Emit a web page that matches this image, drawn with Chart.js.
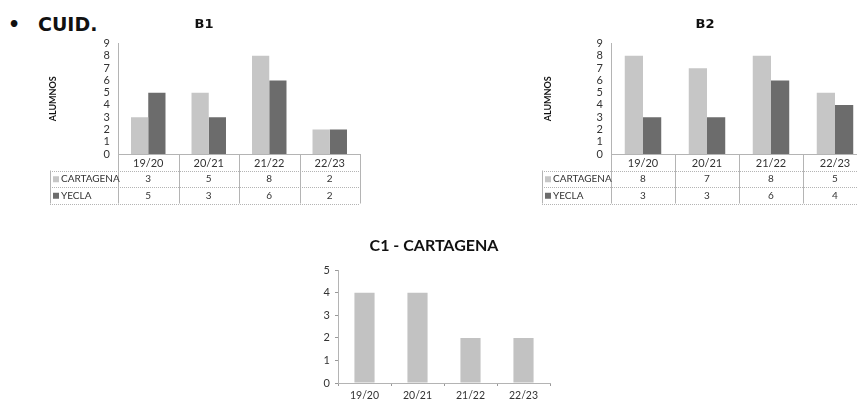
<!DOCTYPE html>
<html>
<head>
<meta charset="utf-8">
<script src="https://cdn.jsdelivr.net/npm/chart.js@4"></script>
<style>
  html, body { margin: 0; padding: 0; background: #fff; overflow: hidden; width: 857px; height: 400px; }
  .box { position: absolute; }
  #cuid { position: absolute; left: 8px; top: 13px; font: bold 19px "DejaVu Sans", sans-serif; color: #111; }
  #cuid span { display: inline-block; width: 30px; }
</style>
</head>
<body>
<div id="cuid"><span>•</span>CUID.</div>
<div class="box" style="left:0;top:0;width:396px;height:210px"><canvas id="b1"></canvas></div>
<div class="box" style="left:500px;top:0;width:414px;height:210px"><canvas id="b2"></canvas></div>
<div class="box" style="left:288px;top:230px;width:340px;height:175px"><canvas id="c1"></canvas></div>
<script>
// data
const years = ['19/20', '20/21', '21/22', '22/23'];
const b1Cartagena = [3, 5, 8, 2];
const b1Yecla = [5, 3, 6, 2];
const b2Cartagena = [8, 7, 8, 5];
const b2Yecla = [3, 3, 6, 4];
const c1Cartagena = [4, 4, 2, 2];
const yTicksB = [0, 1, 2, 3, 4, 5, 6, 7, 8, 9];
const yTicksC = [0, 1, 2, 3, 4, 5];

const light = '#c6c6c6';
const dark = '#6c6c6c';
const txt = '#333';

// draws the data table under the x axis (legend column + one row per dataset)
const dataTable = {
  id: 'dataTable',
  afterDraw(chart, args, opts) {
    if (!opts.show) return;
    const c = chart.ctx, a = chart.chartArea, x = chart.scales.x;
    const rowH = 16.5, n = chart.data.datasets.length;
    const bottom = a.bottom + rowH * (n + 1);
    const half = (x.getPixelForValue(1) - x.getPixelForValue(0)) / 2;
    c.save();
    c.strokeStyle = '#b4b4b4';
    c.lineWidth = 1;
    // horizontal lines
    c.setLineDash([1, 1]);
    for (let i = 1; i <= n + 1; i++) {
      const y = Math.round(a.bottom + rowH * i) + 0.5;
      c.beginPath(); c.moveTo(opts.left, y); c.lineTo(a.right, y); c.stroke();
    }
    c.setLineDash([]);
    // vertical lines
    c.beginPath();
    c.moveTo(opts.left + 0.5, a.bottom + rowH); c.lineTo(opts.left + 0.5, bottom);
    for (let i = 0; i <= years.length; i++) {
      const px = Math.round(x.getPixelForValue(i) - half) + 0.5;
      c.moveTo(px, a.bottom); c.lineTo(px, bottom);
    }
    c.stroke();
    // rows
    c.font = '10px Lato, sans-serif';
    c.textBaseline = 'middle';
    chart.data.datasets.forEach((ds, r) => {
      const y = a.bottom + rowH * (r + 1.5) + 0.5;
      c.fillStyle = ds.backgroundColor;
      c.fillRect(opts.left + 3, y - 3, 6, 6);
      c.fillStyle = txt;
      c.textAlign = 'left';
      c.fillText(ds.label, opts.left + 11, y);
      c.textAlign = 'center';
      ds.data.forEach((v, i) => c.fillText(String(v), x.getPixelForValue(i), y));
    });
    c.restore();
  }
};

function groupedChart(id, title, cart, yec, padLeft, axisWidth, padRight, tableLeft) {
  return new Chart(document.getElementById(id), {
    type: 'bar',
    data: {
      labels: years,
      datasets: [
        { label: 'CARTAGENA', data: cart, backgroundColor: light },
        { label: 'YECLA', data: yec, backgroundColor: dark }
      ]
    },
    options: {
      responsive: true,
      maintainAspectRatio: false,
      animation: false,
      layout: { padding: { left: padLeft, right: padRight, top: 0, bottom: 0 } },
      datasets: { bar: { categoryPercentage: 0.57, barPercentage: 1 } },
      plugins: {
        legend: { display: false },
        tooltip: { enabled: false },
        title: {
          display: true, text: title, color: '#111',
          font: { family: 'DejaVu Sans', size: 13, weight: 'bold' },
          padding: { top: 17, bottom: 11 }
        },
        dataTable: { show: true, left: tableLeft }
      },
      scales: {
        x: {
          afterFit: s => { s.height = 56; },
          grid: { display: false, drawTicks: false },
          border: { color: '#b4b4b4' },
          ticks: { color: txt, font: { family: 'Lato', size: 11 }, padding: 3 }
        },
        y: {
          min: 0, max: 9,
          afterFit: s => { s.width = axisWidth; },
          afterBuildTicks: s => { s.ticks = yTicksB.map(v => ({ value: v })); },
          grid: { display: false, drawTicks: false },
          border: { color: '#b4b4b4' },
          title: {
            display: true, text: 'ALUMNOS', color: '#111',
            font: { family: 'Lato', size: 9, weight: 'bold' }, padding: 0
          },
          ticks: { color: txt, font: { family: 'Lato', size: 11 }, padding: 8, autoSkip: false }
        }
      }
    },
    plugins: [dataTable]
  });
}

groupedChart('b1', 'B1', b1Cartagena, b1Yecla, 48, 70, 36, 50);
groupedChart('b2', 'B2', b2Cartagena, b2Yecla, 43, 68, 47, 42);

new Chart(document.getElementById('c1'), {
  type: 'bar',
  data: {
    labels: years,
    datasets: [{ label: 'CARTAGENA', data: c1Cartagena, backgroundColor: '#c2c2c2' }]
  },
  options: {
    responsive: true,
    maintainAspectRatio: false,
    animation: false,
    layout: { padding: { left: 30, right: 78, top: 0, bottom: 0 } },
    datasets: { bar: { categoryPercentage: 0.38, barPercentage: 1 } },
    plugins: {
      legend: { display: false },
      tooltip: { enabled: false },
      title: {
        display: true, text: 'C1 - CARTAGENA', color: '#111',
        font: { family: 'Lato', size: 16, weight: 'bold' },
        padding: { top: 6, bottom: 15 }
      }
    },
    scales: {
      x: {
        afterFit: s => { s.height = 22; },
        offset: true,
        grid: { offset: true, drawOnChartArea: false, drawTicks: true, tickLength: 3, color: '#999' },
        border: { color: '#b4b4b4' },
        ticks: { color: txt, font: { family: 'Lato', size: 10.5 }, padding: 3 }
      },
      y: {
        min: 0, max: 5,
        afterFit: s => { s.width = 20; },
        afterBuildTicks: s => { s.ticks = yTicksC.map(v => ({ value: v })); },
        grid: { drawOnChartArea: false, drawTicks: true, tickLength: 3, color: '#999' },
        border: { color: '#b4b4b4' },
        ticks: { color: txt, font: { family: 'Lato', size: 11 }, padding: 5 }
      }
    }
  }
});
</script>
</body>
</html>
